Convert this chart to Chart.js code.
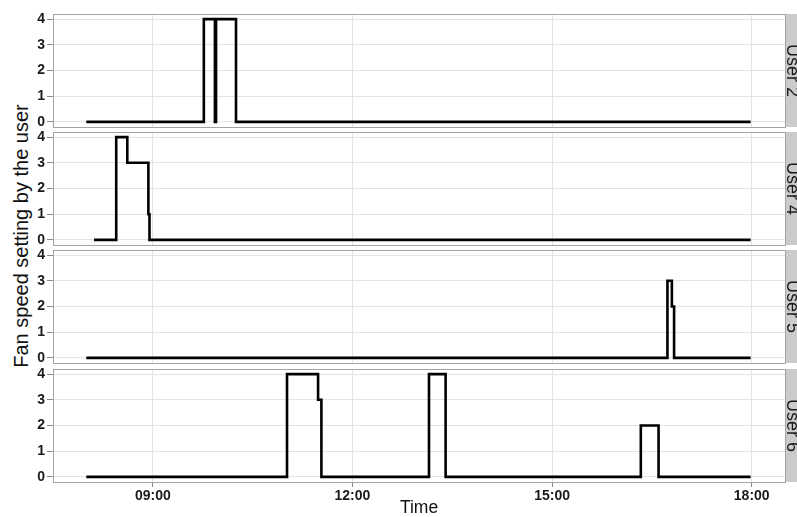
<!DOCTYPE html>
<html>
<head>
<meta charset="utf-8">
<script src="https://cdn.jsdelivr.net/npm/chart.js@4"></script>
<style>
  html, body { margin: 0; padding: 0; background: #ffffff; overflow: hidden; }
  #fig { position: relative; width: 797px; height: 517px; overflow: hidden; background: #ffffff; }
  #fig canvas { position: absolute; left: 0; }
  #ytitle {
    position: absolute; left: 21px; top: 236px;
    transform: translate(-50%, -50%) rotate(-90deg);
    white-space: nowrap;
    font: 20px "Liberation Sans", Arial, sans-serif;
    color: #111;
  }
</style>
</head>
<body>
<div id="fig">
  <div id="ytitle">Fan speed setting by the user</div>
</div>
<script>
// Facet labels, one per panel (top to bottom)
const users = ['User 2', 'User 4', 'User 5', 'User 6'];

// Change points of the fan setting: time of change and the new setting
const user2Times = ['08:00', '09:46', '09:56', '09:57', '10:15', '17:59'];
const user2Speed = [0, 4, 0, 4, 0, 0];

const user4Times = ['08:07', '08:27', '08:37', '08:56', '08:57', '17:59'];
const user4Speed = [0, 4, 3, 1, 0, 0];

const user5Times = ['08:00', '16:44', '16:48', '16:50', '17:59'];
const user5Speed = [0, 3, 2, 0, 0];

const user6Times = ['08:00', '11:01', '11:29', '11:32', '13:09', '13:24', '16:20', '16:36', '17:59'];
const user6Speed = [0, 4, 3, 0, 4, 0, 2, 0, 0];

// Axis ticks
const timeTicks = ['09:00', '12:00', '15:00', '18:00'];
const speedTicks = [0, 1, 2, 3, 4];

const seriesTimes = [user2Times, user4Times, user5Times, user6Times];
const seriesSpeed = [user2Speed, user4Speed, user5Speed, user6Speed];

function toHours(t) {
  const [h, m] = t.split(':').map(Number);
  return h + m / 60;
}

// Layout of the facet grid
const FIG_W = 797, FIG_H = 517;
const AXIS_W = 53;            // width taken by the y tick labels
const STRIP_GAP = 12;         // room on the right for the facet strip
const PANEL_TOPS = [14, 132, 250, 369];
const PANEL_H = 113;
const PAD = 16;
const FONT = '"Liberation Sans", Arial, sans-serif';

// Panel frame and the grey facet strip on the right
const facetStrip = {
  id: 'facetStrip',
  afterDraw(chart, args, opts) {
    const { ctx, chartArea: a } = chart;
    ctx.save();
    // strip
    ctx.fillStyle = '#cbcbcb';
    ctx.fillRect(a.right, a.top, FIG_W - a.right + 20, a.bottom - a.top);
    // panel border
    ctx.strokeStyle = '#a3a3a3';
    ctx.lineWidth = 1;
    ctx.strokeRect(Math.round(a.left) + 0.5, Math.round(a.top) + 0.5,
                   Math.round(a.right - a.left), Math.round(a.bottom - a.top));
    // strip label, rotated clockwise
    ctx.translate(a.right + 1.5, (a.top + a.bottom) / 2);
    ctx.rotate(Math.PI / 2);
    ctx.fillStyle = '#1a1a1a';
    ctx.font = '18px ' + FONT;
    ctx.textAlign = 'center';
    ctx.textBaseline = 'alphabetic';
    ctx.fillText(opts.label, 0, 0);
    ctx.restore();
  }
};

const fig = document.getElementById('fig');

users.forEach((label, i) => {
  const isLast = i === users.length - 1;
  const top = PANEL_TOPS[i] - PAD;
  const height = isLast ? FIG_H - top : PANEL_H + 2 * PAD;

  const canvas = document.createElement('canvas');
  canvas.width = FIG_W;
  canvas.height = height;
  canvas.style.top = top + 'px';
  fig.appendChild(canvas);

  const points = seriesTimes[i].map((t, k) => ({ x: toHours(t), y: seriesSpeed[i][k] }));

  new Chart(canvas, {
    type: 'line',
    data: {
      datasets: [{
        label: label,
        data: points,
        stepped: true,
        borderColor: '#000000',
        borderWidth: 2.6,
        pointRadius: 0,
        fill: false
      }]
    },
    options: {
      responsive: false,
      animation: false,
      devicePixelRatio: 1,
      events: [],
      layout: { padding: { left: 0, right: STRIP_GAP, top: PAD, bottom: isLast ? 0 : PAD } },
      plugins: {
        legend: { display: false },
        tooltip: { enabled: false },
        facetStrip: { label: label }
      },
      scales: {
        x: {
          type: 'linear',
          min: 7.5,
          max: 18.5,
          afterBuildTicks: s => { s.ticks = timeTicks.map(t => ({ value: toHours(t) })); },
          afterFit: s => { s.height = isLast ? FIG_H - (PANEL_TOPS[i] + PANEL_H) : 0; },
          border: { display: false },
          grid: {
            color: '#e3e3e3',
            lineWidth: 1,
            drawTicks: isLast,
            tickLength: 5,
            tickColor: '#8a8a8a'
          },
          ticks: {
            display: isLast,
            padding: 1,
            maxRotation: 0,
            autoSkip: false,
            color: '#1a1a1a',
            font: { family: FONT, size: 14, weight: 'bold' },
            callback: (v, k) => timeTicks[k]
          },
          title: {
            display: isLast,
            text: 'Time',
            color: '#111111',
            padding: 0,
            font: { family: FONT, size: 17.5, lineHeight: 1 }
          }
        },
        y: {
          type: 'linear',
          min: -0.2,
          max: 4.2,
          afterBuildTicks: s => { s.ticks = speedTicks.map(v => ({ value: v })); },
          afterFit: s => { s.width = AXIS_W; },
          border: { display: false },
          grid: {
            color: '#e3e3e3',
            lineWidth: 1,
            tickLength: 6,
            tickColor: '#8a8a8a'
          },
          ticks: {
            padding: 2,
            autoSkip: false,
            color: '#1a1a1a',
            font: { family: FONT, size: 14, weight: 'bold' }
          }
        }
      }
    },
    plugins: [facetStrip]
  });
});
</script>
</body>
</html>
